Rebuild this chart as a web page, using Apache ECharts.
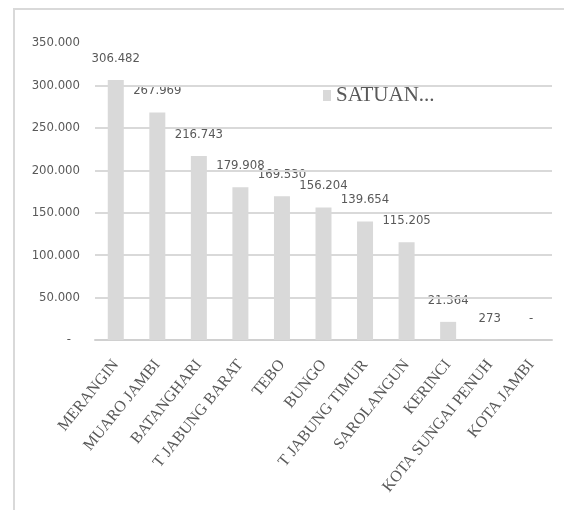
<!DOCTYPE html>
<html>
<head>
<meta charset="utf-8">
<script src="https://cdn.jsdelivr.net/npm/echarts@6/dist/echarts.min.js"></script>
<style>
html,body{margin:0;padding:0;background:#fff;}
#c{width:564px;height:510px;}
</style>
</head>
<body>
<div id="c"></div>
<script>
const categories = ['MERANGIN','MUARO JAMBI','BATANGHARI','T JABUNG BARAT','TEBO','BUNGO','T JABUNG TIMUR','SAROLANGUN','KERINCI','KOTA SUNGAI PENUH','KOTA JAMBI'];
const values = [306482, 267969, 216743, 179908, 169530, 156204, 139654, 115205, 21364, 273, 0];
const seriesName = 'SATUAN...';
const gridValues = [50000, 100000, 150000, 200000, 250000, 300000];

const sansFont = "'DejaVu Sans Condensed', 'Liberation Sans Narrow', sans-serif";
const serifFont = "'Liberation Serif', 'Times New Roman', serif";
const textColor = '#595959';

function fmt(v) {
  if (v === 0) return '-';
  return String(Math.round(v)).replace(/\B(?=(\d{3})+(?!\d))/g, '.');
}

const chart = echarts.init(document.getElementById('c'), null, {renderer: 'canvas'});
chart.setOption({
  animation: false,
  backgroundColor: '#fff',
  graphic: [
    {type: 'line', shape: {x1: 13, y1: 9, x2: 564, y2: 9}, style: {stroke: '#d9d9d9', lineWidth: 2}},
    {type: 'line', shape: {x1: 14, y1: 8, x2: 14, y2: 510}, style: {stroke: '#d9d9d9', lineWidth: 2}}
  ],
  grid: {left: 95, right: 12, top: 43, bottom: 170},
  legend: {
    left: 318, top: 80,
    itemWidth: 8, itemHeight: 11, itemGap: 10,
    icon: 'rect',
    textStyle: {fontFamily: serifFont, fontSize: 21, color: textColor},
    data: [seriesName]
  },
  xAxis: {
    type: 'category',
    data: categories,
    axisLine: {lineStyle: {color: '#d0d0d0', width: 2}},
    axisTick: {show: false},
    axisLabel: {interval: 0, rotate: 51, margin: 22, fontFamily: serifFont, fontSize: 16, color: textColor}
  },
  yAxis: {
    type: 'value',
    min: 0, max: 350000, interval: 50000,
    splitLine: {show: false},
    axisLine: {show: false},
    axisTick: {show: false},
    axisLabel: {
      margin: 15,
      fontFamily: sansFont, fontSize: 13, color: textColor,
      formatter: function (v) { return v === 0 ? '{d|-}' : fmt(v); },
      rich: {d: {fontFamily: sansFont, fontSize: 13, color: textColor, padding: [0, 9, 0, 0]}}
    }
  },
  series: [{
    name: seriesName,
    type: 'bar',
    data: values,
    barWidth: 16,
    itemStyle: {color: '#d9d9d9'},
    label: {
      show: true, position: 'top', distance: 15,
      fontFamily: sansFont, fontSize: 13, color: textColor,
      formatter: function (p) { return fmt(p.value); }
    },
    markLine: {
      silent: true, symbol: 'none', animation: false,
      label: {show: false},
      lineStyle: {color: '#d9d9d9', width: 2, type: 'solid'},
      data: gridValues.map(v => ({yAxis: v}))
    },
    z: 3
  }]
});
</script>
</body>
</html>
